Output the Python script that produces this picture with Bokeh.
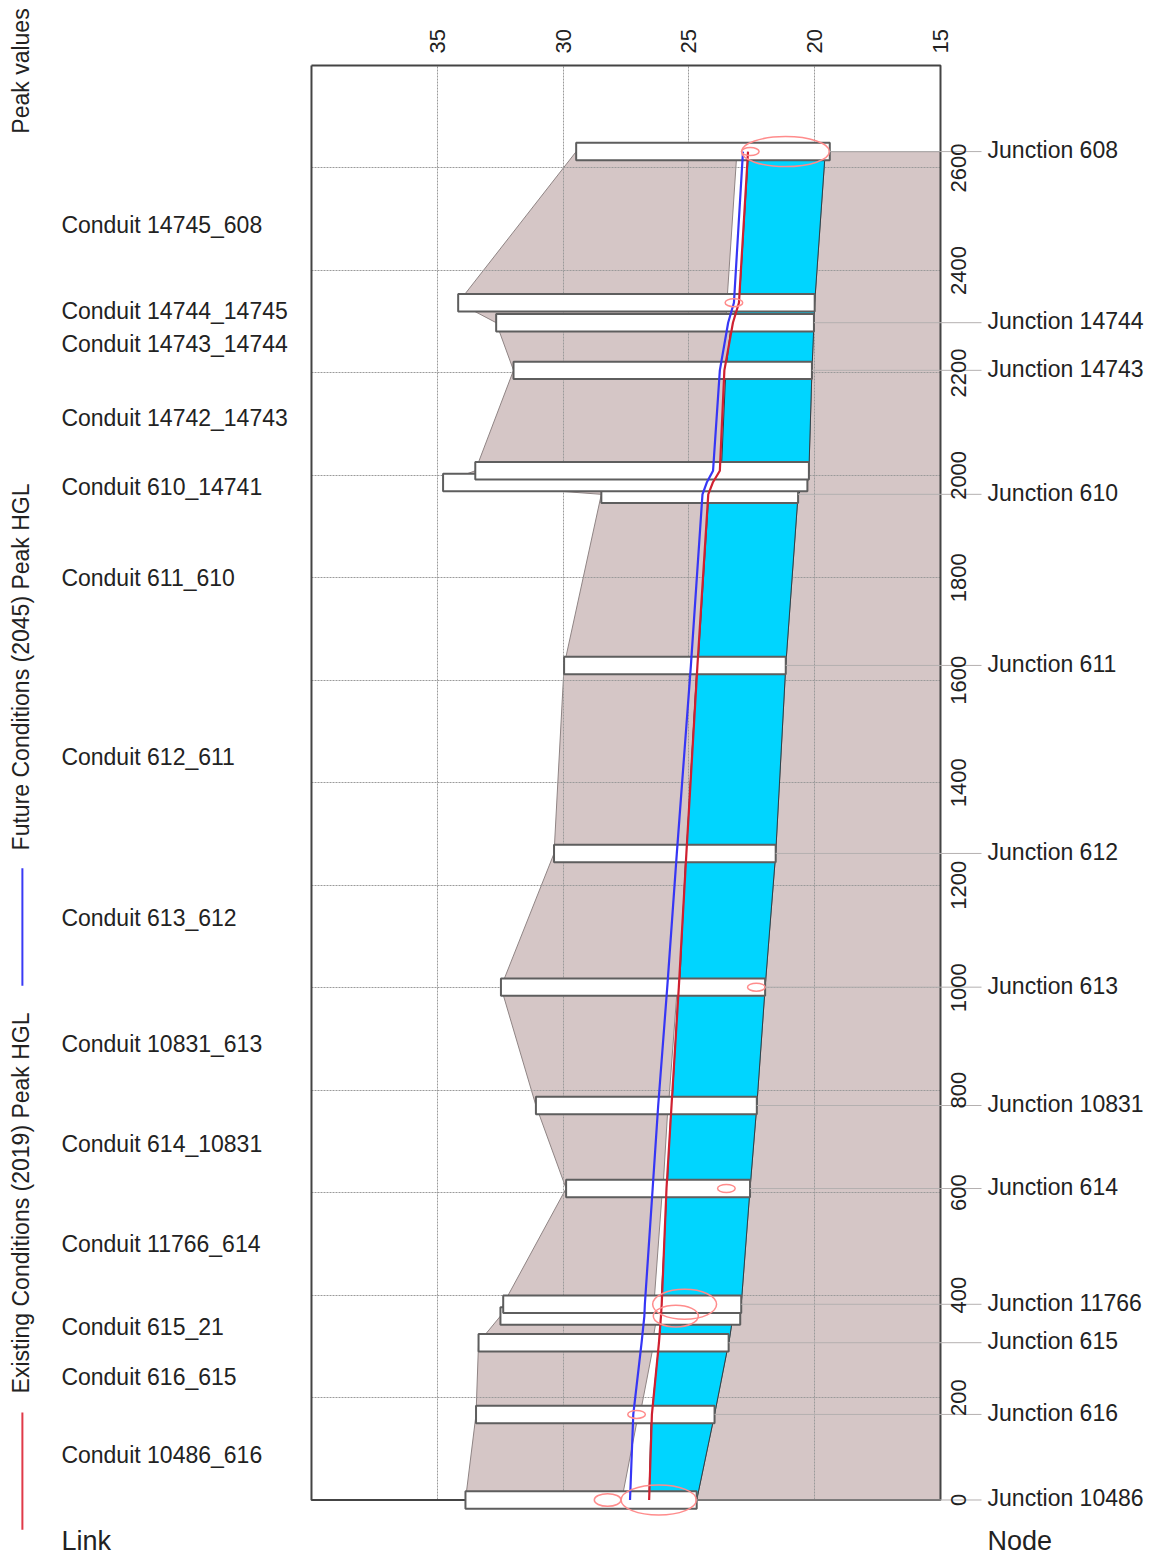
import math
from bokeh.embed import file_html
from bokeh.models import FixedTicker, Grid, Label, LinearAxis, Range1d
from bokeh.plotting import figure
from bokeh.resources import INLINE

# ---- nodes / manhole boxes, top to bottom ----
node_station = [2632, 2337, 2298, 2205, 2009, 1986, 1963, 1629, 1262, 1001, 770, 608, 382, 359, 307, 167, 0]
node_rim = [29.48, 34.17, 32.66, 31.97, 33.49, 34.77, 28.48, 29.96, 30.36, 32.47, 31.08, 29.88, 32.38, 32.49, 33.36, 33.46, 33.88]
node_invert = [19.40, 20.00, 20.03, 20.11, 20.23, 20.29, 20.66, 21.15, 21.55, 21.97, 22.30, 22.57, 22.92, 22.96, 23.42, 23.98, 24.69]

# ---- links between consecutive nodes ----
crown_up = [23.09, 23.49, 23.31, 23.53, 23.73, 24.01, 24.21, 24.68, 25.12, 25.46, 25.83, 26.05, 26.39, 26.27, 26.39, 27.01]
crown_dn = [23.49, 23.53, 23.53, 23.71, 23.77, 24.09, 24.64, 25.10, 25.37, 25.81, 26.03, 26.39, 26.43, 26.45, 26.94, 27.67]
water_up = [22.63, 23.10, 23.31, 23.53, 23.73, 24.01, 24.21, 24.68, 25.12, 25.42, 25.71, 25.87, 26.11, 26.12, 26.19, 26.50]
water_dn = [23.00, 23.25, 23.53, 23.71, 23.77, 24.09, 24.64, 25.10, 25.37, 25.67, 25.86, 26.11, 26.13, 26.15, 26.48, 26.59]
invert_up = [19.58, 20.00, 20.03, 20.11, 20.23, 20.29, 20.66, 21.15, 21.55, 21.97, 22.30, 22.57, 22.92, 23.25, 23.42, 23.98]
invert_dn = [20.00, 20.03, 20.11, 20.23, 20.29, 20.66, 21.15, 21.55, 21.97, 22.30, 22.57, 22.92, 22.96, 23.41, 23.98, 24.69]

# ---- peak HGL series ----
existing_hgl = [22.65, 23.01, 23.25, 23.59, 23.77, 24.05, 24.23, 24.66, 25.10, 25.40, 25.69, 25.89, 26.08, 26.11, 26.19, 26.47, 26.58]
future_hgl = [22.85, 23.21, 23.44, 23.77, 24.04, 24.29, 24.46, 24.92, 25.48, 25.86, 26.22, 26.44, 26.75, 26.77, 26.88, 27.21, 27.34]

# ---- peak value markers ----
peak_x = [21.16, 22.56, 23.21, 22.32, 23.51, 25.17, 25.52, 27.08, 28.23, 26.20]
peak_station = [2632, 2632, 2337, 1001, 608, 382, 359, 167, 0, 0]
peak_w = [3.49, 0.70, 0.70, 0.70, 0.70, 2.54, 1.79, 0.70, 1.06, 2.99]
peak_h = [58.5, 15.6, 15.6, 15.6, 15.6, 58.5, 42.3, 15.6, 24.8, 58.5]

# ---- labels ----
junction_names = ["Junction 608", "Junction 14744", "Junction 14743", "Junction 610", "Junction 611",
                  "Junction 612", "Junction 613", "Junction 10831", "Junction 614", "Junction 11766",
                  "Junction 615", "Junction 616", "Junction 10486"]
junction_node = [0, 2, 3, 6, 7, 8, 9, 10, 11, 12, 14, 15, 16]
link_names = ["Conduit 14745_608", "Conduit 14744_14745", "Conduit 14743_14744", "Conduit 14742_14743",
              "Conduit 610_14741", "Conduit 611_610", "Conduit 612_611", "Conduit 613_612",
              "Conduit 10831_613", "Conduit 614_10831", "Conduit 11766_614", "Conduit 615_21",
              "Conduit 616_615", "Conduit 10486_616"]
link_station = [2487, 2319, 2255, 2110, 1976, 1798, 1449, 1135, 889, 692, 497, 335, 239, 85]
elev_ticks = [35, 30, 25, 20, 15]
station_ticks = [0, 200, 400, 600, 800, 1000, 1200, 1400, 1600, 1800, 2000, 2200, 2400, 2600]

FONT = "Liberation Sans"
TEXT = "#222222"
ROSE = "#d5c6c6"
BLUE = "#00d5ff"
EDGE = "#5e5e5e"
FRAME = "#444444"
BOX_HALF = 17
LINK_X, NODE_X, SIDE_X, LEADER_X, LEGEND_X, STATION_LABEL_X = 49.94, 13.13, 51.55, 13.37, 51.49, 13.53

p = figure(width=1152, height=1556, output_backend="svg", toolbar_location=None,
           x_range=Range1d(52.36, 6.574), y_range=Range1d(-110.3, 2926.9),
           x_axis_location=None, y_axis_location=None,
           min_border_left=0, min_border_right=0, min_border_top=0, min_border_bottom=0,
           outline_line_color=None, background_fill_color="white")
p.center = []

top = LinearAxis(fixed_location=2800, bounds=(15, 40), ticker=FixedTicker(ticks=elev_ticks),
                 axis_line_color=None,
                 major_tick_line_color=None, minor_tick_line_color=None, major_label_orientation=math.pi / 2,
                 major_label_standoff=6, major_label_text_font=FONT, major_label_text_font_size="22px",
                 major_label_text_color=TEXT)
station_axis = LinearAxis(fixed_location=STATION_LABEL_X, bounds=(0, 2800), ticker=FixedTicker(ticks=station_ticks),
                          axis_line_color=None,
                          major_tick_line_color=None, minor_tick_line_color=None, major_label_orientation="vertical",
                          major_label_standoff=5, major_label_text_font=FONT, major_label_text_font_size="22px",
                          major_label_text_color=TEXT)
p.add_layout(top, "above")
p.add_layout(station_axis, "left")

xg = Grid(dimension=0, ticker=FixedTicker(ticks=elev_ticks), cross_bounds=(0, 2800), grid_line_color="#9a9a9a",
          grid_line_dash="2 1", grid_line_width=1)
yg = Grid(dimension=1, ticker=FixedTicker(ticks=station_ticks), cross_bounds=(15, 40), grid_line_color="#9a9a9a",
          grid_line_dash="2 1", grid_line_width=1)
p.add_layout(xg)
p.add_layout(yg)

n_links = len(crown_up)
# soil above the pipes
for i in range(n_links):
    p.patch([node_rim[i], node_rim[i + 1], crown_dn[i], crown_up[i]],
            [node_station[i], node_station[i + 1], node_station[i + 1], node_station[i]],
            fill_color=ROSE, line_color="#8f8484", line_width=1, level="image")
# soil below the pipes
low_x, low_y = [15], [node_station[0]]
for i in range(n_links):
    low_x += [invert_up[i], invert_dn[i]]
    low_y += [node_station[i], node_station[i + 1]]
low_x.append(15)
low_y.append(0)
p.patch(low_x, low_y, fill_color=ROSE, line_color="#6f6666", line_width=1, level="image")

# water in the pipes
for i in range(n_links):
    p.patch([water_up[i], water_dn[i], invert_dn[i], invert_up[i]],
            [node_station[i], node_station[i + 1], node_station[i + 1], node_station[i]],
            fill_color=BLUE, line_color="#2f3f46", line_width=1)

# frame
p.line([40, 40, 15, 15, 40], [2800, 0, 0, 2800, 2800], line_color=FRAME, line_width=2)

# manhole boxes, in the order that leaves the upper ones on top
for i in [6, 5, 4, 3, 2, 1, 0, 7, 8, 9, 10, 11, 13, 12, 14, 15, 16]:
    p.quad(left=node_rim[i], right=node_invert[i], top=node_station[i] + BOX_HALF, bottom=node_station[i] - BOX_HALF,
           fill_color="white", line_color=EDGE, line_width=2)

p.line(existing_hgl, node_station, line_color="#cf2030", line_width=2.2)
p.line(future_hgl, node_station, line_color="#3636f5", line_width=2.2)
p.ellipse(peak_x, peak_station, width=peak_w, height=peak_h, fill_color=None, line_color="#ff8c8c", line_width=1.5)

# leaders
for i in junction_node:
    p.line([node_invert[i], LEADER_X], [node_station[i], node_station[i]], line_color="#b4b0b0", line_width=1)
# legend strokes
for s0, s1, c in [(171, -58, "#e03a48"), (1233, 1004, "#3a3af5")]:
    p.line([LEGEND_X, LEGEND_X], [s0, s1], line_color=c, line_width=2)

for i, name in zip(junction_node, junction_names):
    p.add_layout(Label(x=NODE_X, y=node_station[i], y_offset=1.5, text=name, text_font=FONT, text_font_size="23px",
                       text_color=TEXT, text_baseline="middle", text_align="left"))
for s, name in zip(link_station, link_names):
    p.add_layout(Label(x=LINK_X, y=s, y_offset=1, text=name, text_font=FONT, text_font_size="23px",
                       text_color=TEXT, text_baseline="middle", text_align="left"))
for x, name in [(LINK_X, "Link"), (NODE_X, "Node")]:
    p.add_layout(Label(x=x, y=-81, text=name, text_font=FONT, text_font_size="27px",
                       text_color=TEXT, text_baseline="middle", text_align="left"))
for s, name in [(208, "Existing Conditions (2019) Peak HGL"), (1268, "Future Conditions (2045) Peak HGL"), (2667, "Peak values")]:
    p.add_layout(Label(x=SIDE_X, y=s, text=name, angle=math.pi / 2, text_font=FONT, text_font_size="23px",
                       text_color=TEXT, text_baseline="alphabetic", text_align="left"))

open("out.html", "w").write(file_html(p, INLINE))
